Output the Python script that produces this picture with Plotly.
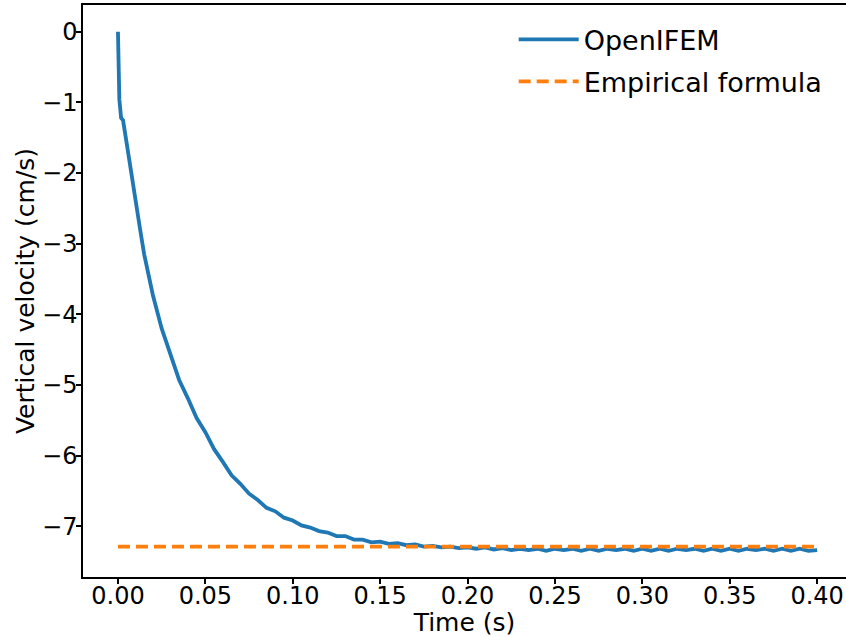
import plotly.graph_objects as go

# OpenIFEM vertical velocity (cm/s) vs time (s)
time_s = [0.0, 0.0008, 0.0018, 0.0029, 0.005, 0.0075, 0.010, 0.0125, 0.015, 0.0175, 0.020,
          0.025, 0.030, 0.035, 0.040, 0.045, 0.050, 0.055, 0.060, 0.065, 0.070,
          0.075, 0.080, 0.085, 0.090, 0.095, 0.100, 0.105, 0.110, 0.115, 0.120,
          0.125, 0.130, 0.135, 0.140, 0.145, 0.150, 0.155, 0.160, 0.165, 0.170,
          0.175, 0.180, 0.185, 0.190, 0.195, 0.200, 0.205, 0.210, 0.215, 0.220,
          0.225, 0.230, 0.235, 0.240, 0.245, 0.250, 0.255, 0.260, 0.265, 0.270,
          0.275, 0.280, 0.285, 0.290, 0.295, 0.300, 0.305, 0.310, 0.315, 0.320,
          0.325, 0.330, 0.335, 0.340, 0.345, 0.350, 0.355, 0.360, 0.365, 0.370,
          0.375, 0.380, 0.385, 0.390, 0.395, 0.400]
openifem_v = [0.0, -0.96, -1.22, -1.25, -1.58, -2.00, -2.41, -2.77, -3.15, -3.45, -3.73,
              -4.20, -4.57, -4.93, -5.19, -5.47, -5.67, -5.91, -6.09, -6.28, -6.40,
              -6.54, -6.63, -6.74, -6.79, -6.88, -6.92, -6.99, -7.02, -7.07, -7.09,
              -7.14, -7.14, -7.19, -7.19, -7.23, -7.22, -7.25, -7.24, -7.27, -7.26,
              -7.29, -7.28, -7.30, -7.29, -7.31, -7.30, -7.32, -7.30, -7.33, -7.31,
              -7.34, -7.32, -7.34, -7.32, -7.35, -7.32, -7.34, -7.32, -7.35, -7.32,
              -7.35, -7.32, -7.34, -7.32, -7.35, -7.32, -7.35, -7.32, -7.35, -7.32,
              -7.34, -7.32, -7.35, -7.32, -7.35, -7.32, -7.35, -7.32, -7.34, -7.32,
              -7.35, -7.32, -7.35, -7.32, -7.35, -7.34]

# Empirical formula (terminal velocity)
emp_t = [0.0, 0.4]
emp_v = [-7.29, -7.29]

x_tickvals = [0.00, 0.05, 0.10, 0.15, 0.20, 0.25, 0.30, 0.35, 0.40]
x_ticktext = ["0.00", "0.05", "0.10", "0.15", "0.20", "0.25", "0.30", "0.35", "0.40"]
y_tickvals = [0, -1, -2, -3, -4, -5, -6, -7]
y_ticktext = ["0", "\u22121", "\u22122", "\u22123", "\u22124", "\u22125", "\u22126", "\u22127"]

FONT = "DejaVu Sans"

fig = go.Figure()
fig.add_trace(go.Scatter(x=time_s, y=openifem_v, mode="lines", name="OpenIFEM",
                         legendgroup="a",
                         line=dict(color="#1f77b4", width=3.8)))
fig.add_trace(go.Scatter(x=emp_t, y=emp_v, mode="lines", name="Empirical formula",
                         legendgroup="b",
                         line=dict(color="#ff7f0e", width=3.8, dash="12px,6px")))

fig.update_layout(
    width=846, height=637,
    margin=dict(l=83, r=0, t=5, b=60),
    paper_bgcolor="white", plot_bgcolor="white",
    font=dict(family=FONT, color="black", size=24),
    showlegend=True,
    legend=dict(x=0.976, y=0.982, xanchor="right", yanchor="top",
                bgcolor="rgba(0,0,0,0)", borderwidth=0,
                font=dict(family=FONT, size=27, color="black"),
                itemwidth=60, tracegroupgap=4),
    xaxis=dict(range=[-0.02, 0.4165], tickvals=x_tickvals, ticktext=x_ticktext,
               showgrid=False, zeroline=False, showline=True, linecolor="black",
               linewidth=1.5, mirror=True, ticks="outside", ticklen=5, tickwidth=1.5,
               tickcolor="black", tickfont=dict(size=24, family=FONT),
               ticklabelstandoff=-9,
               title=dict(text="Time (s)", font=dict(size=25, family=FONT), standoff=2)),
    yaxis=dict(range=[-7.72, 0.38], tickvals=y_tickvals, ticktext=y_ticktext,
               showgrid=False, zeroline=False, showline=True, linecolor="black",
               linewidth=1.5, mirror=False, ticks="outside", ticklen=5, tickwidth=1.5,
               tickcolor="black", tickfont=dict(size=24, family=FONT),
               ticklabelstandoff=-6,
               title=dict(text="Vertical velocity (cm/s)", font=dict(size=25, family=FONT),
                          standoff=0)),
)

fig.write_html("out.html")
